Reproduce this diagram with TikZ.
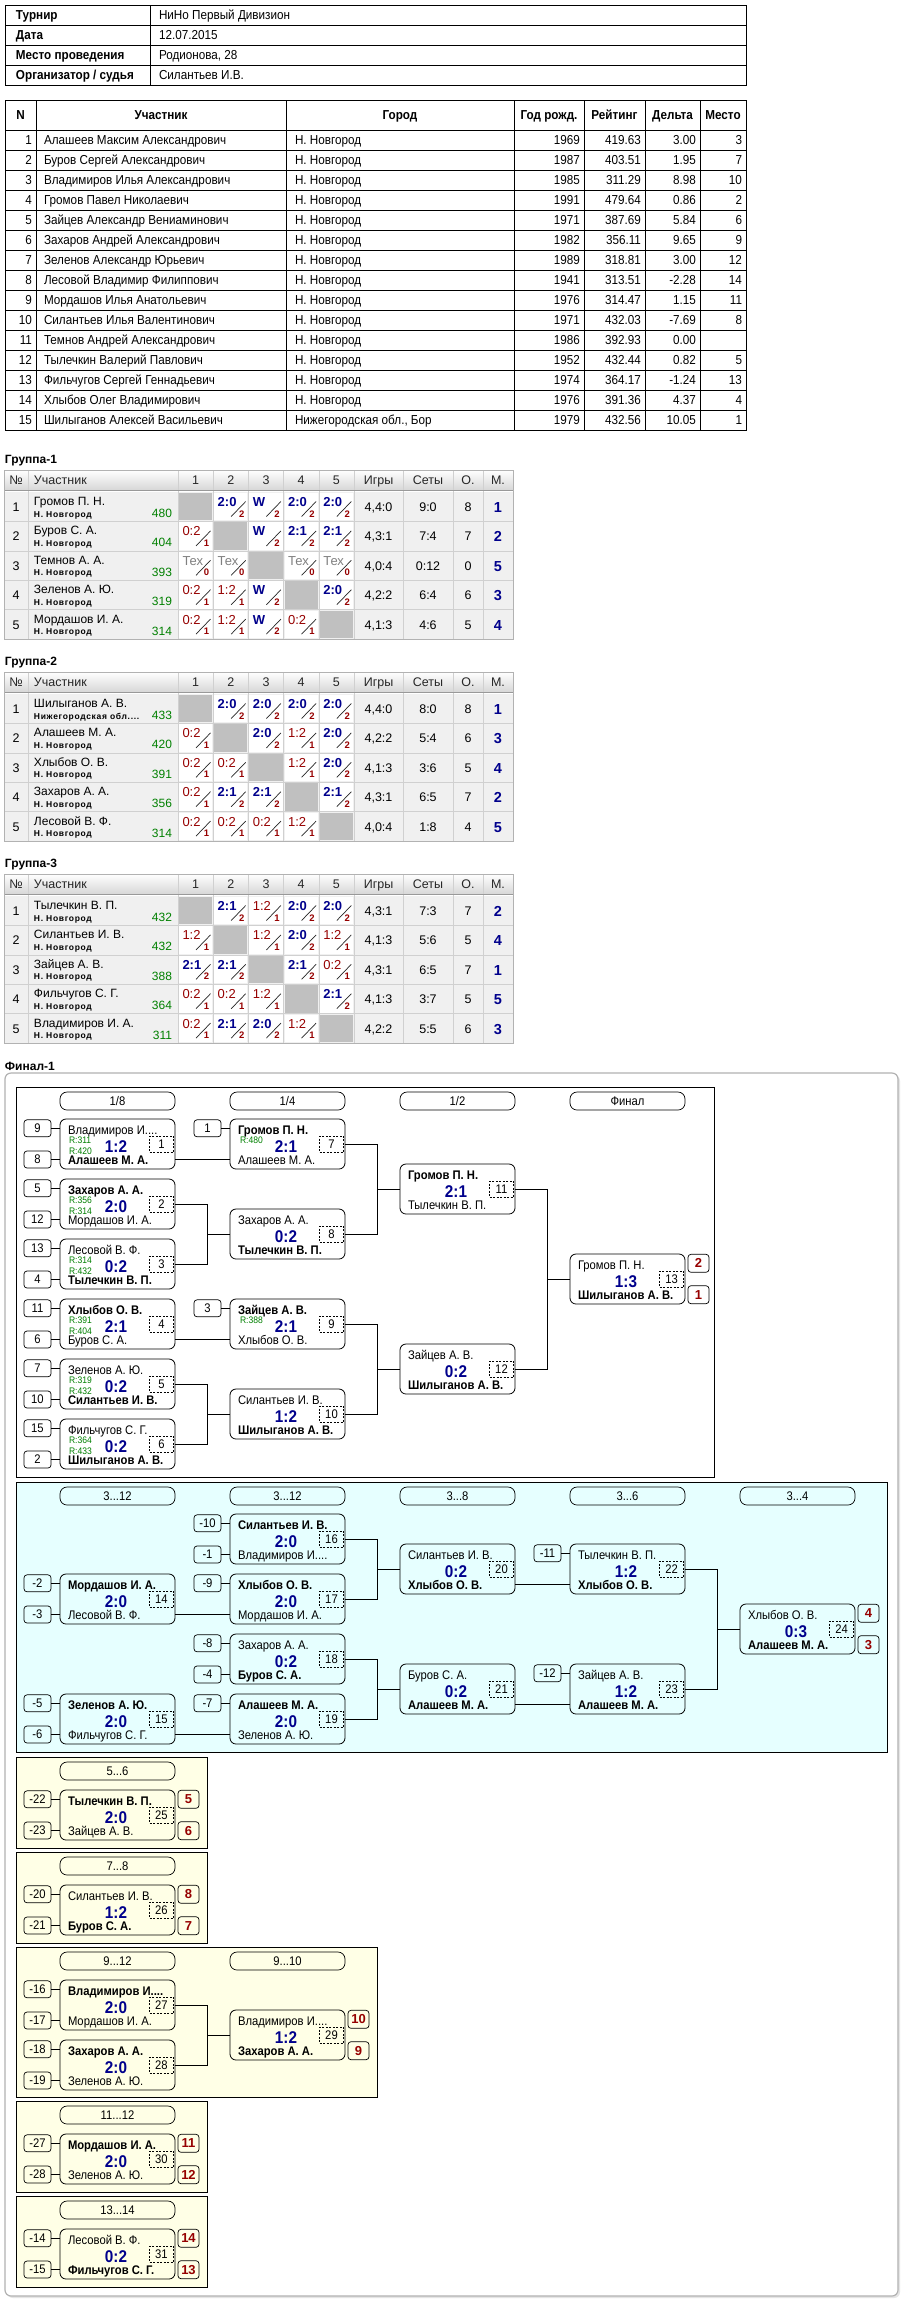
\documentclass[tikz,border=0pt]{standalone}
\usepackage{fontspec}
\setmainfont{Liberation Sans}
\newfontfamily\cond[FakeStretch=0.9]{Liberation Sans}
\newfontfamily\spc[LetterSpace=8]{Liberation Sans}
\usetikzlibrary{calc}
\definecolor{navyb}{RGB}{0,0,140}
\definecolor{dred}{RGB}{150,0,0}
\definecolor{grn}{RGB}{0,128,0}
\definecolor{cyanbg}{RGB}{230,255,255}
\definecolor{yelbg}{RGB}{255,255,230}
\definecolor{cellbg}{RGB}{240,240,240}
\definecolor{gridc}{RGB}{208,208,208}
\definecolor{diagc}{RGB}{192,192,192}
\definecolor{hdbot}{RGB}{215,215,215}
\tikzset{
  every node/.style={inner sep=0pt, outer sep=0pt},
  ln/.style={line width=0.8pt},
  th/.style={anchor=base west, font=\cond\bfseries\fontsize{13}{13}\selectfont},
  td/.style={anchor=base west, font=\cond\fontsize{13}{13}\selectfont},
  thc/.style={anchor=base, font=\cond\bfseries\fontsize{13}{13}\selectfont},
  tdr/.style={anchor=base east, font=\cond\fontsize{13}{13}\selectfont},
  gtitle/.style={anchor=base west, font=\bfseries\fontsize{12}{12}\selectfont},
  ghd/.style={anchor=base, font=\fontsize{12.5}{12.5}\selectfont, text=black!85},
  gnum/.style={anchor=base, font=\fontsize{12.5}{12.5}\selectfont},
  gname/.style={anchor=base west, font=\fontsize{12}{12}\selectfont},
  gcity/.style={anchor=base west, font=\spc\bfseries\fontsize{8.5}{8.5}\selectfont},
  grat/.style={anchor=base east, font=\fontsize{12}{12}\selectfont, text=grn},
  gst/.style={anchor=base, font=\fontsize{12.5}{12.5}\selectfont},
  gpl/.style={anchor=base, font=\bfseries\fontsize{14.5}{14.5}\selectfont, text=navyb},
  gw/.style={anchor=base west, font=\bfseries\fontsize{13}{13}\selectfont, text=navyb},
  gl/.style={anchor=base west, font=\fontsize{13}{13}\selectfont, text=dred},
  gt/.style={anchor=base west, font=\fontsize{13}{13}\selectfont, text=black!50},
  gd/.style={anchor=base west},
  gwbg/.style={fill=white}, glbg/.style={fill=white}, gtbg/.style={fill=white}, gdbg/.style={fill=diagc},
  gwsl/.style={draw=black!85}, glsl/.style={draw=black!85}, gtsl/.style={draw=black!85}, gdsl/.style={draw=none},
  gpts/.style={anchor=base, font=\bfseries\fontsize{9.5}{9.5}\selectfont, text=dred},
  mbx/.style={draw, line width=0.8pt, rounded corners=6pt, minimum width=115pt, minimum height=50pt},
  nm/.style={anchor=base west, font=\cond\fontsize{12.5}{12.5}\selectfont},
  scr/.style={anchor=base, font=\cond\bfseries\fontsize{17}{17}\selectfont, text=navyb},
  numbx/.style={draw, line width=0.6pt, dash pattern=on 2pt off 1.5pt, minimum width=24pt, minimum height=16pt, font=\cond\fontsize{12.5}{12.5}\selectfont},
  rtg/.style={anchor=base west, font=\cond\fontsize{9.5}{9.5}\selectfont, text=grn},
  seedbx/.style={draw, line width=0.7pt, rounded corners=3pt, minimum width=27pt, minimum height=17pt, font=\cond\fontsize{12.5}{12.5}\selectfont},
  plbx/.style={draw, line width=0.7pt, rounded corners=3pt, minimum width=21pt, minimum height=18pt, font=\bfseries\fontsize{13}{13}\selectfont, text=dred},
  pill/.style={draw, line width=0.7pt, rounded corners=7pt, minimum width=115pt, minimum height=18pt, font=\cond\fontsize{12.5}{12.5}\selectfont},
}
% ---------- group table macros ----------
\newcommand\zGH[2]{% Y, g
  \node[gtitle] (g#2ttl) at (5,#1-28.5) {Группа-#2};
  \fill[cellbg] (4,#1) rectangle (513,#1+147);
  \shade[top color=white, bottom color=hdbot] (4,#1-22) rectangle (513,#1-2);
  \foreach \zx in {28,178,213.2,248.4,283.6,318.8,354,403,453,483} \draw[gridc] (\zx,#1-22) -- (\zx,#1+147);
  \foreach \zi in {1,2,3,4} \draw[gridc] (4,#1+29.4*\zi) -- (513,#1+29.4*\zi);
  \draw[black!40] (4,#1-2) -- (513,#1-2);
  \draw[black!30] (4,#1-22) rectangle (513,#1+147);
  \node[ghd] (g#2h0) at (16,#1-7.5) {№};
  \node[ghd, anchor=base west] (g#2h1) at (34,#1-7.5) {Участник};
  \node[ghd] (g#2h2) at (195.6,#1-7.5) {1};
  \node[ghd] (g#2h3) at (230.8,#1-7.5) {2};
  \node[ghd] (g#2h4) at (266,#1-7.5) {3};
  \node[ghd] (g#2h5) at (301.2,#1-7.5) {4};
  \node[ghd] (g#2h6) at (336.4,#1-7.5) {5};
  \node[ghd] (g#2h7) at (378.5,#1-7.5) {Игры};
  \node[ghd] (g#2h8) at (428,#1-7.5) {Сеты};
  \node[ghd] (g#2h9) at (468,#1-7.5) {О.};
  \node[ghd] (g#2h10) at (498,#1-7.5) {М.};
}
\newcommand\zGP[6]{% g, Y, r, name, city, rating
  \pgfmathsetmacro\zrt{#2+29.4*#3}%
  \pgfmathtruncatemacro\zrn{#3+1}%
  \node[gnum] (g#1r#3n) at (16,\zrt+19.5) {\zrn};
  \node[gname] (g#1r#3p) at (34,\zrt+13.5) {#4};
  \node[gcity] (g#1r#3c) at (34,\zrt+25) {#5};
  \node[grat] (g#1r#3r) at (172,\zrt+25.5) {#6};
}
\newcommand\zGC[7]{% g, Y, r, c, kind, score, pts
  \pgfmathsetmacro\zcl{178+35.2*(#4-1)}%
  \pgfmathsetmacro\zct{#2+29.4*#3}%
  \path[#5bg] (\zcl+1,\zct+1) rectangle (\zcl+34.2,\zct+28.4);
  \node[#5] (g#1r#3c#4s) at (\zcl+4.5,\zct+14.5) {#6};
  \path[#5sl, line width=0.7pt] (\zcl+18,\zct+24.5) -- (\zcl+32.5,\zct+9.5);
  \node[gpts] (g#1r#3c#4p) at (\zcl+28.5,\zct+25) {#7};
}
\newcommand\zGRow[7]{% g, Y, r, name, city, rating, cells
  \zGP{#1}{#2}{#3}{#4}{#5}{#6}%
  \foreach \zk/\zs/\zp [count=\zc] in {#7}{%
    \edef\zcall{\noexpand\zGC{#1}{#2}{#3}{\zc}{\zk}{\zs}{\zp}}\zcall}%
}
\newcommand\zGS[7]{% g, Y, r, games, sets, points, place
  \pgfmathsetmacro\zrt{#2+29.4*#3}%
  \node[gst] (g#1r#3g) at (378.5,\zrt+19.5) {#4};
  \node[gst] (g#1r#3t) at (428,\zrt+19.5) {#5};
  \node[gst] (g#1r#3o) at (468,\zrt+19.5) {#6};
  \node[gpl] (g#1r#3m) at (498,\zrt+20.5) {#7};
}
% ---------- bracket macros ----------
\newcommand\zMt[7]{% id, x, y, top, score, bottom, num
  \node[mbx] (m#1) at (#2+57.5,#3+25) {};
  \node[nm] (m#1t) at (#2+8,#3+15) {#4};
  \node[scr] (m#1s) at (#2+56,#3+33) {#5};
  \node[nm] (m#1b) at (#2+8,#3+45) {#6};
  \node[numbx] (m#1n) at (#2+101.5,#3+25) {#7};
  \coordinate (m#1i1) at (#2,#3+9.3);
  \coordinate (m#1i2) at (#2,#3+40.5);
  \coordinate (m#1o2) at (#2+115,#3+40.5);
}
\newcommand\zRa[4]{\node[rtg] (m#1ra) at (#2+9,#3+24) {#4};}
\newcommand\zRb[4]{\node[rtg] (m#1rb) at (#2+9,#3+35) {#4};}
\newcommand\zSa[4]{\node[seedbx] (s#1a) at (#2-22.5,#3+9.3) {#4}; \draw[ln] (s#1a.east) -- (m#1i1);}
\newcommand\zSb[4]{\node[seedbx] (s#1b) at (#2-22.5,#3+40.5) {#4}; \draw[ln] (s#1b.east) -- (m#1i2);}
\newcommand\zPl[5]{\node[plbx] (p#1a) at (#2+128.5,#3+9.3) {#4}; \node[plbx] (p#1b) at (#2+128.5,#3+40.7) {#5};}
\newcommand\zCs[2]{\draw[ln] (m#1o2) -- (m#2i2);}
\newcommand\zCf[3]{\draw[ln] (m#1.east) -- ++(32,0) |- (m#3.west); \draw[ln] (m#2.east) -- ++(32,0) |- (m#3.west);}
\begin{document}
\begin{tikzpicture}[x=1pt,y=-1pt]
\path[use as bounding box, fill=white] (0,0) rectangle (908,2303);
% ---------- header table ----------
\draw[line width=0.8pt] (5,5) rectangle (746,85);
\foreach \zy in {25,45,65} \draw[line width=0.8pt] (5,\zy) -- (746,\zy);
\draw[line width=0.8pt] (150,5) -- (150,85);
\node[th] (ha1) at (16,19.7) {Турнир};
\node[td] (hb1) at (159,19.7) {НиНо Первый Дивизион};
\node[th] (ha2) at (16,39.7) {Дата};
\node[td] (hb2) at (159,39.7) {12.07.2015};
\node[th] (ha3) at (16,59.7) {Место проведения};
\node[td] (hb3) at (159,59.7) {Родионова, 28};
\node[th] (ha4) at (16,79.7) {Организатор / судья};
\node[td] (hb4) at (159,79.7) {Силантьев И.В.};
% ---------- participants ----------
\draw[line width=0.8pt] (5,100) rectangle (746,430);
\foreach \zy in {130,150,...,410} \draw[line width=0.8pt] (5,\zy) -- (746,\zy);
\foreach \zx in {36,286,514,584,645,700} \draw[line width=0.8pt] (\zx,100) -- (\zx,430);
\node[thc] (pt1) at (20.5,119.7) {N};
\node[thc] (pt2) at (161,119.7) {Участник};
\node[thc] (pt3) at (400,119.7) {Город};
\node[thc] (pt4) at (549,119.7) {Год рожд.};
\node[thc] (pt5) at (614.5,119.7) {Рейтинг};
\node[thc] (pt6) at (672.5,119.7) {Дельта};
\node[thc] (pt7) at (723,119.7) {Место};
\foreach \zn/\zm/\zg/\zyr/\zr/\zd/\zpl [count=\zi] in {
 1/Алашеев Максим Александрович/Н. Новгород/1969/419.63/3.00/3,
 2/Буров Сергей Александрович/Н. Новгород/1987/403.51/1.95/7,
 3/Владимиров Илья Александрович/Н. Новгород/1985/311.29/8.98/10,
 4/Громов Павел Николаевич/Н. Новгород/1991/479.64/0.86/2,
 5/Зайцев Александр Вениаминович/Н. Новгород/1971/387.69/5.84/6,
 6/Захаров Андрей Александрович/Н. Новгород/1982/356.11/9.65/9,
 7/Зеленов Александр Юрьевич/Н. Новгород/1989/318.81/3.00/12,
 8/Лесовой Владимир Филиппович/Н. Новгород/1941/313.51/-2.28/14,
 9/Мордашов Илья Анатольевич/Н. Новгород/1976/314.47/1.15/11,
 10/Силантьев Илья Валентинович/Н. Новгород/1971/432.03/-7.69/8,
 11/Темнов Андрей Александрович/Н. Новгород/1986/392.93/0.00/{},
 12/Тылечкин Валерий Павлович/Н. Новгород/1952/432.44/0.82/5,
 13/Фильчугов Сергей Геннадьевич/Н. Новгород/1974/364.17/-1.24/13,
 14/Хлыбов Олег Владимирович/Н. Новгород/1976/391.36/4.37/4,
 15/Шилыганов Алексей Васильевич/{Нижегородская обл., Бор}/1979/432.56/10.05/1}{
  \pgfmathsetmacro\zb{144.7+20*(\zi-1)}
  \node[tdr] (pn\zi) at (32,\zb) {\zn};
  \node[td] (pm\zi) at (44,\zb) {\zm};
  \node[td] (pg\zi) at (295,\zb) {\zg};
  \node[tdr] (py\zi) at (580,\zb) {\zyr};
  \node[tdr] (pr\zi) at (641,\zb) {\zr};
  \node[tdr] (pd\zi) at (696,\zb) {\zd};
  \node[tdr] (pp\zi) at (742,\zb) {\zpl};
}
% ---------- group 1 ----------
\zGH{492}{1}
\zGRow{1}{492}{0}{Громов П. Н.}{Н. Новгород}{480}{gd/{}/{}, gw/2:0/2, gw/W/2, gw/2:0/2, gw/2:0/2}
\zGS{1}{492}{0}{4,4:0}{9:0}{8}{1}
\zGRow{1}{492}{1}{Буров С. А.}{Н. Новгород}{404}{gl/0:2/1, gd/{}/{}, gw/W/2, gw/2:1/2, gw/2:1/2}
\zGS{1}{492}{1}{4,3:1}{7:4}{7}{2}
\zGRow{1}{492}{2}{Темнов А. А.}{Н. Новгород}{393}{gt/Тех/0, gt/Тех/0, gd/{}/{}, gt/Тех/0, gt/Тех/0}
\zGS{1}{492}{2}{4,0:4}{0:12}{0}{5}
\zGRow{1}{492}{3}{Зеленов А. Ю.}{Н. Новгород}{319}{gl/0:2/1, gl/1:2/1, gw/W/2, gd/{}/{}, gw/2:0/2}
\zGS{1}{492}{3}{4,2:2}{6:4}{6}{3}
\zGRow{1}{492}{4}{Мордашов И. А.}{Н. Новгород}{314}{gl/0:2/1, gl/1:2/1, gw/W/2, gl/0:2/1, gd/{}/{}}
\zGS{1}{492}{4}{4,1:3}{4:6}{5}{4}
% ---------- group 2 ----------
\zGH{694}{2}
\zGRow{2}{694}{0}{Шилыганов А. В.}{Нижегородская обл....}{433}{gd/{}/{}, gw/2:0/2, gw/2:0/2, gw/2:0/2, gw/2:0/2}
\zGS{2}{694}{0}{4,4:0}{8:0}{8}{1}
\zGRow{2}{694}{1}{Алашеев М. А.}{Н. Новгород}{420}{gl/0:2/1, gd/{}/{}, gw/2:0/2, gl/1:2/1, gw/2:0/2}
\zGS{2}{694}{1}{4,2:2}{5:4}{6}{3}
\zGRow{2}{694}{2}{Хлыбов О. В.}{Н. Новгород}{391}{gl/0:2/1, gl/0:2/1, gd/{}/{}, gl/1:2/1, gw/2:0/2}
\zGS{2}{694}{2}{4,1:3}{3:6}{5}{4}
\zGRow{2}{694}{3}{Захаров А. А.}{Н. Новгород}{356}{gl/0:2/1, gw/2:1/2, gw/2:1/2, gd/{}/{}, gw/2:1/2}
\zGS{2}{694}{3}{4,3:1}{6:5}{7}{2}
\zGRow{2}{694}{4}{Лесовой В. Ф.}{Н. Новгород}{314}{gl/0:2/1, gl/0:2/1, gl/0:2/1, gl/1:2/1, gd/{}/{}}
\zGS{2}{694}{4}{4,0:4}{1:8}{4}{5}
% ---------- group 3 ----------
\zGH{896}{3}
\zGRow{3}{896}{0}{Тылечкин В. П.}{Н. Новгород}{432}{gd/{}/{}, gw/2:1/2, gl/1:2/1, gw/2:0/2, gw/2:0/2}
\zGS{3}{896}{0}{4,3:1}{7:3}{7}{2}
\zGRow{3}{896}{1}{Силантьев И. В.}{Н. Новгород}{432}{gl/1:2/1, gd/{}/{}, gl/1:2/1, gw/2:0/2, gl/1:2/1}
\zGS{3}{896}{1}{4,1:3}{5:6}{5}{4}
\zGRow{3}{896}{2}{Зайцев А. В.}{Н. Новгород}{388}{gw/2:1/2, gw/2:1/2, gd/{}/{}, gw/2:1/2, gl/0:2/1}
\zGS{3}{896}{2}{4,3:1}{6:5}{7}{1}
\zGRow{3}{896}{3}{Фильчугов С. Г.}{Н. Новгород}{364}{gl/0:2/1, gl/0:2/1, gl/1:2/1, gd/{}/{}, gw/2:1/2}
\zGS{3}{896}{3}{4,1:3}{3:7}{5}{5}
\zGRow{3}{896}{4}{Владимиров И. А.}{Н. Новгород}{311}{gl/0:2/1, gw/2:1/2, gw/2:0/2, gl/1:2/1, gd/{}/{}}
\zGS{3}{896}{4}{4,2:2}{5:5}{6}{3}
% ---------- final ----------
\node[gtitle] (fttl) at (5,1070) {Финал-1};
\fill[black!10, rounded corners=6pt] (7,1075) rectangle (900,2298);
\draw[black!30, line width=1.2pt, fill=white, rounded corners=6pt] (5,1073) rectangle (898,2296);
\draw[ln, fill=white] (16,1087) rectangle (714,1477);
\draw[ln, fill=cyanbg] (16,1482) rectangle (887,1752);
\draw[ln, fill=yelbg] (16.7,1757) rectangle (207.3,1848);
\draw[ln, fill=yelbg] (16.7,1852) rectangle (207.3,1943);
\draw[ln, fill=yelbg] (16.7,1947) rectangle (377.3,2097);
\draw[ln, fill=yelbg] (16.7,2101) rectangle (207.3,2192);
\draw[ln, fill=yelbg] (16.7,2196) rectangle (207.3,2287);
% pills
\node[pill] (h1) at (117.5,1101) {1/8};
\node[pill] (h2) at (287.5,1101) {1/4};
\node[pill] (h3) at (457.5,1101) {1/2};
\node[pill] (h4) at (627.5,1101) {Финал};
\node[pill] (h5) at (117.5,1496) {3...12};
\node[pill] (h6) at (287.5,1496) {3...12};
\node[pill] (h7) at (457.5,1496) {3...8};
\node[pill] (h8) at (627.5,1496) {3...6};
\node[pill] (h9) at (797.5,1496) {3...4};
\node[pill] (h10) at (117.5,1771) {5...6};
\node[pill] (h11) at (117.5,1866) {7...8};
\node[pill] (h12) at (117.5,1961) {9...12};
\node[pill] (h13) at (287.5,1961) {9...10};
\node[pill] (h14) at (117.5,2115) {11...12};
\node[pill] (h15) at (117.5,2210) {13...14};
% main bracket
\zMt{1}{60}{1119}{Владимиров И....}{1:2}{\bfseries Алашеев М. А.}{1}
\zRa{1}{60}{1119}{R:311}\zRb{1}{60}{1119}{R:420}
\zSa{1}{60}{1119}{9}\zSb{1}{60}{1119}{8}
\zMt{2}{60}{1179}{\bfseries Захаров А. А.}{2:0}{Мордашов И. А.}{2}
\zRa{2}{60}{1179}{R:356}\zRb{2}{60}{1179}{R:314}
\zSa{2}{60}{1179}{5}\zSb{2}{60}{1179}{12}
\zMt{3}{60}{1239}{Лесовой В. Ф.}{0:2}{\bfseries Тылечкин В. П.}{3}
\zRa{3}{60}{1239}{R:314}\zRb{3}{60}{1239}{R:432}
\zSa{3}{60}{1239}{13}\zSb{3}{60}{1239}{4}
\zMt{4}{60}{1299}{\bfseries Хлыбов О. В.}{2:1}{Буров С. А.}{4}
\zRa{4}{60}{1299}{R:391}\zRb{4}{60}{1299}{R:404}
\zSa{4}{60}{1299}{11}\zSb{4}{60}{1299}{6}
\zMt{5}{60}{1359}{Зеленов А. Ю.}{0:2}{\bfseries Силантьев И. В.}{5}
\zRa{5}{60}{1359}{R:319}\zRb{5}{60}{1359}{R:432}
\zSa{5}{60}{1359}{7}\zSb{5}{60}{1359}{10}
\zMt{6}{60}{1419}{Фильчугов С. Г.}{0:2}{\bfseries Шилыганов А. В.}{6}
\zRa{6}{60}{1419}{R:364}\zRb{6}{60}{1419}{R:433}
\zSa{6}{60}{1419}{15}\zSb{6}{60}{1419}{2}
\zMt{7}{230}{1119}{\bfseries Громов П. Н.}{2:1}{Алашеев М. А.}{7}
\zRa{7}{231}{1119}{R:480}\zSa{7}{230}{1119}{1}
\zMt{8}{230}{1209}{Захаров А. А.}{0:2}{\bfseries Тылечкин В. П.}{8}
\zMt{9}{230}{1299}{\bfseries Зайцев А. В.}{2:1}{Хлыбов О. В.}{9}
\zRa{9}{231}{1299}{R:388}\zSa{9}{230}{1299}{3}
\zMt{10}{230}{1389}{Силантьев И. В.}{1:2}{\bfseries Шилыганов А. В.}{10}
\zMt{11}{400}{1164}{\bfseries Громов П. Н.}{2:1}{Тылечкин В. П.}{11}
\zMt{12}{400}{1344}{Зайцев А. В.}{0:2}{\bfseries Шилыганов А. В.}{12}
\zMt{13}{570}{1254}{Громов П. Н.}{1:3}{\bfseries Шилыганов А. В.}{13}
\zPl{13}{570}{1254}{2}{1}
\zCs{1}{7}\zCf{2}{3}{8}\zCs{4}{9}\zCf{5}{6}{10}
\zCf{7}{8}{11}\zCf{9}{10}{12}\zCf{11}{12}{13}
% consolation bracket
\zMt{14}{60}{1574}{\bfseries Мордашов И. А.}{2:0}{Лесовой В. Ф.}{14}
\zSa{14}{60}{1574}{-2}\zSb{14}{60}{1574}{-3}
\zMt{15}{60}{1694}{\bfseries Зеленов А. Ю.}{2:0}{Фильчугов С. Г.}{15}
\zSa{15}{60}{1694}{-5}\zSb{15}{60}{1694}{-6}
\zMt{16}{230}{1514}{\bfseries Силантьев И. В.}{2:0}{Владимиров И....}{16}
\zSa{16}{230}{1514}{-10}\zSb{16}{230}{1514}{-1}
\zMt{17}{230}{1574}{\bfseries Хлыбов О. В.}{2:0}{Мордашов И. А.}{17}
\zSa{17}{230}{1574}{-9}
\zMt{18}{230}{1634}{Захаров А. А.}{0:2}{\bfseries Буров С. А.}{18}
\zSa{18}{230}{1634}{-8}\zSb{18}{230}{1634}{-4}
\zMt{19}{230}{1694}{\bfseries Алашеев М. А.}{2:0}{Зеленов А. Ю.}{19}
\zSa{19}{230}{1694}{-7}
\zMt{20}{400}{1544}{Силантьев И. В.}{0:2}{\bfseries Хлыбов О. В.}{20}
\zMt{21}{400}{1664}{Буров С. А.}{0:2}{\bfseries Алашеев М. А.}{21}
\zMt{22}{570}{1544}{Тылечкин В. П.}{1:2}{\bfseries Хлыбов О. В.}{22}
\zSa{22}{570}{1544}{-11}
\zMt{23}{570}{1664}{Зайцев А. В.}{1:2}{\bfseries Алашеев М. А.}{23}
\zSa{23}{570}{1664}{-12}
\zMt{24}{740}{1604}{Хлыбов О. В.}{0:3}{\bfseries Алашеев М. А.}{24}
\zPl{24}{740}{1604}{4}{3}
\zCs{14}{17}\zCs{15}{19}\zCf{16}{17}{20}\zCf{18}{19}{21}
\zCs{20}{22}\zCs{21}{23}\zCf{22}{23}{24}
% placement matches
\zMt{25}{60}{1790}{\bfseries Тылечкин В. П.}{2:0}{Зайцев А. В.}{25}
\zSa{25}{60}{1790}{-22}\zSb{25}{60}{1790}{-23}\zPl{25}{60}{1790}{5}{6}
\zMt{26}{60}{1885}{Силантьев И. В.}{1:2}{\bfseries Буров С. А.}{26}
\zSa{26}{60}{1885}{-20}\zSb{26}{60}{1885}{-21}\zPl{26}{60}{1885}{8}{7}
\zMt{27}{60}{1980}{\bfseries Владимиров И....}{2:0}{Мордашов И. А.}{27}
\zSa{27}{60}{1980}{-16}\zSb{27}{60}{1980}{-17}
\zMt{28}{60}{2040}{\bfseries Захаров А. А.}{2:0}{Зеленов А. Ю.}{28}
\zSa{28}{60}{2040}{-18}\zSb{28}{60}{2040}{-19}
\zMt{29}{230}{2010}{Владимиров И....}{1:2}{\bfseries Захаров А. А.}{29}
\zPl{29}{230}{2010}{10}{9}
\zCf{27}{28}{29}
\zMt{30}{60}{2134}{\bfseries Мордашов И. А.}{2:0}{Зеленов А. Ю.}{30}
\zSa{30}{60}{2134}{-27}\zSb{30}{60}{2134}{-28}\zPl{30}{60}{2134}{11}{12}
\zMt{31}{60}{2229}{Лесовой В. Ф.}{0:2}{\bfseries Фильчугов С. Г.}{31}
\zSa{31}{60}{2229}{-14}\zSb{31}{60}{2229}{-15}\zPl{31}{60}{2229}{14}{13}
\end{tikzpicture}
\end{document}
